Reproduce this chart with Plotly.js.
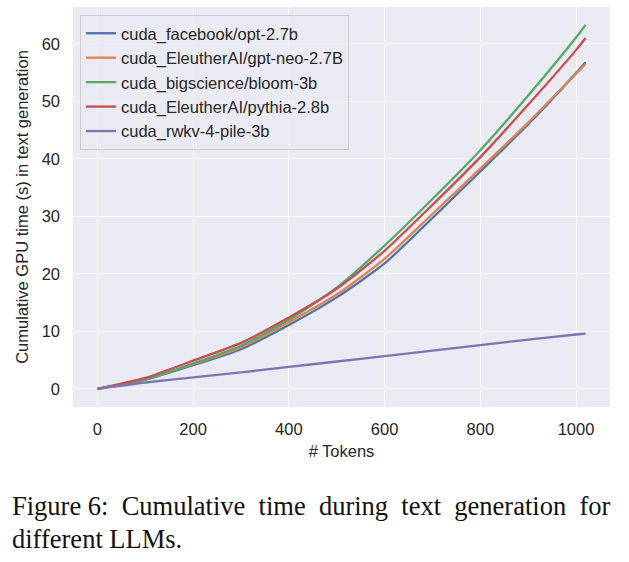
<!DOCTYPE html>
<html>
<head>
<meta charset="utf-8">
<script src="https://cdn.plot.ly/plotly-3.0.1.min.js"></script>
<style>
  body { margin: 0; background: #fff; }
  #chart { width: 629px; height: 562px; }
</style>
</head>
<body>
<div id="chart"></div>
<script>
// tokens generated (x) and cumulative GPU time in seconds (y)
const tokens = [0, 100, 200, 300, 400, 500, 600, 700, 800, 900, 1000, 1020];

const optTime    = [0, 1.6, 4.1, 6.9, 11.1, 15.9, 21.8, 29.7, 37.8, 46.0, 54.9, 56.8];
const gptNeoTime = [0, 1.7, 4.3, 7.2, 11.6, 16.4, 22.6, 30.4, 38.3, 46.3, 54.8, 56.5];
const bloomTime  = [0, 1.6, 4.4, 7.5, 12.0, 17.6, 24.9, 33.0, 41.5, 51.0, 61.1, 63.3];
const pythiaTime = [0, 1.9, 4.9, 8.0, 12.4, 17.4, 24.0, 32.0, 40.3, 49.4, 58.9, 61.0];
const rwkvTime   = [0, 1.1, 2.0, 2.85, 3.8, 4.75, 5.7, 6.65, 7.6, 8.55, 9.45, 9.6];

const names = [
  "cuda_facebook/opt-2.7b",
  "cuda_EleutherAI/gpt-neo-2.7B",
  "cuda_bigscience/bloom-3b",
  "cuda_EleutherAI/pythia-2.8b",
  "cuda_rwkv-4-pile-3b"
];
const series = [optTime, gptNeoTime, bloomTime, pythiaTime, rwkvTime];
const colors = ["#4C72B0", "#DD8452", "#55A868", "#C44E52", "#8172B3"];

const data = series.map((ys, i) => ({
  type: "scatter",
  mode: "lines",
  x: tokens,
  y: ys,
  name: names[i],
  legendgroup: "g" + i,
  line: {color: colors[i], width: 2.3, shape: "spline", smoothing: 0.6}
}));

const axisFont = {family: "Liberation Sans, Arial, sans-serif", size: 16.5, color: "#262626"};

const layout = {
  width: 629,
  height: 562,
  margin: {l: 73, r: 19, t: 7, b: 155},
  paper_bgcolor: "#ffffff",
  plot_bgcolor: "#EAEAF2",
  font: axisFont,
  showlegend: true,
  legend: {
    x: 0.013, y: 0.98, xanchor: "left", yanchor: "top",
    bgcolor: "rgba(234,234,242,0.85)",
    bordercolor: "#CCCCCC", borderwidth: 1,
    font: {family: "Liberation Sans, Arial, sans-serif", size: 16.5, color: "#262626"},
    tracegroupgap: 3,
    traceorder: "normal"
  },
  xaxis: {
    range: [-51, 1071],
    tickvals: [0, 200, 400, 600, 800, 1000],
    showgrid: true, gridcolor: "#ffffff", gridwidth: 1.3,
    zeroline: false, showline: false, ticks: "",
    ticklabelstandoff: 10,
    tickfont: axisFont,
    title: {text: "# Tokens", font: axisFont, standoff: 8}
  },
  yaxis: {
    range: [-3.16, 66.4],
    tickvals: [0, 10, 20, 30, 40, 50, 60],
    showgrid: true, gridcolor: "#ffffff", gridwidth: 1.3,
    zeroline: false, showline: false, ticks: "",
    ticklabelstandoff: 12,
    tickfont: axisFont,
    title: {text: "Cumulative GPU time (s) in text generation", font: axisFont, standoff: 8}
  },
  annotations: [
    {
      xref: "paper", yref: "paper", x: -0.118, y: -0.248,
      xanchor: "left", yanchor: "middle", showarrow: false, align: "left",
      text: "Figure 6:  Cumulative  time  during  text  generation  for",
      font: {family: "Liberation Serif, Times New Roman, serif", size: 26.5, color: "#111111"}
    },
    {
      xref: "paper", yref: "paper", x: -0.118, y: -0.33,
      xanchor: "left", yanchor: "middle", showarrow: false, align: "left",
      text: "different LLMs.",
      font: {family: "Liberation Serif, Times New Roman, serif", size: 26.5, color: "#111111"}
    }
  ]
};

Plotly.newPlot("chart", data, layout, {displayModeBar: false});
</script>
</body>
</html>
